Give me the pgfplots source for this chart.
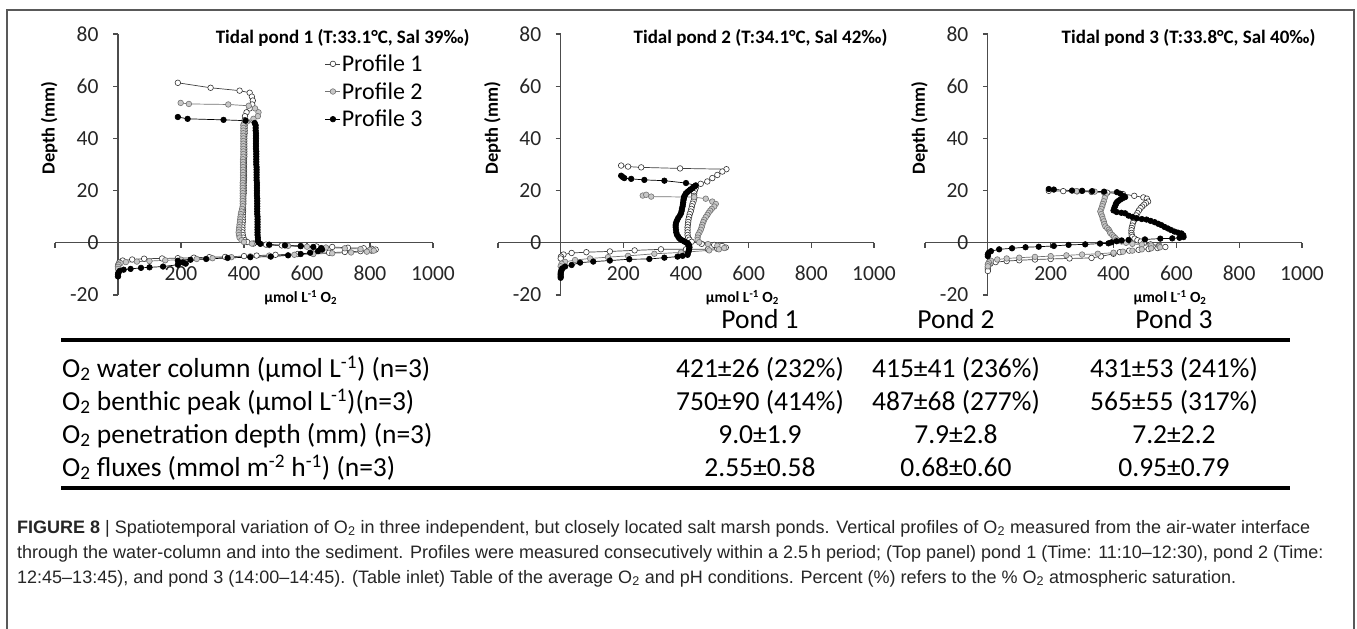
\documentclass[border=0pt]{standalone}
\usepackage{fontspec}
\setmainfont{Carlito}
\newfontfamily\capfont{Liberation Sans}
\usepackage{pgfplots}
\pgfplotsset{compat=1.18}
\pgfplotsset{
 pond/.style={
  scale only axis, width=378bp, height=261bp,
  xmin=-200,xmax=1000,ymin=-20,ymax=80,
  axis x line=middle, axis y line=middle,
  axis line style={-, draw=black!70, line width=1.1bp},
  every tick/.style={draw=black!70, line width=1.1bp},
  tick align=outside, major tick length=5bp,
  hide obscured x ticks=false, hide obscured y ticks=false,
  xtick={-200,200,400,600,800,1000}, xticklabels={,200,400,600,800,1000},
  ytick={-20,0,20,40,60,80}, yticklabels={-20,0,20,40,60,80},
  /pgf/number format/assume math mode=true,
  ticklabel style={font=\fontsize{21.5bp}{25bp}\selectfont, text=black!85},
  xticklabel style={anchor=north, yshift=-16bp, text height=13bp, text depth=0bp},
  yticklabel style={xshift=-11bp},
  xlabel={\textbf{µmol L\textsuperscript{-1} O\textsubscript{2}}},
  ylabel={\textbf{Depth (mm)}},
  xlabel style={at={(rel axis cs:0.65,-0.011)}, anchor=center, font=\fontsize{15.5bp}{18bp}\selectfont},
  ylabel style={at={(rel axis cs:-0.015,0.64)}, anchor=center, rotate=90, font=\fontsize{18.5bp}{22bp}\selectfont},
  clip=false,
 },
 p1/.style={black!75, line width=0.7bp, mark=*, mark size=2.8bp, mark options={fill=white, draw=black!80, line width=0.6bp, solid}},
 p2/.style={black!55, line width=0.7bp, mark=*, mark size=2.8bp, mark options={fill=black!22, draw=black!55, line width=0.6bp, solid}},
 p3/.style={black, line width=0.7bp, mark=*, mark size=2.8bp, mark options={fill=black, draw=black, line width=0.6bp, solid}},
}
\tikzset{ttl/.style={anchor=east, font=\bfseries\fontsize{19bp}{22bp}\selectfont}}
\newcommand\tabfont{\fontsize{27.5bp}{32bp}\selectfont}
\begin{document}
\begin{tikzpicture}
\useasboundingbox (0,0) rectangle (1357bp,-629bp);
\fill[white] (0,0) rectangle (1357bp,-629bp);
\draw[black!65, line width=1.5bp] (7bp,-650bp) -- (7bp,-10bp) -- (1354bp,-10bp) -- (1354bp,-650bp);

% ---------------- Pond 1
\begin{axis}[pond, at={(55bp,-295bp)}, anchor=south west,
  legend style={at={(rel axis cs:0.714,0.925)}, anchor=north west, draw=none, fill=none,
    font=\fontsize{24bp}{28bp}\selectfont,
    inner sep=0pt, row sep=7.5bp, nodes={font=\fontsize{24bp}{28bp}\selectfont, inner sep=1bp}},
  legend cell align=left,
  legend image code/.code={\draw[mark repeat=2,mark phase=2,#1] plot coordinates {(0bp,0bp) (7.5bp,0bp) (15bp,0bp)};}]
\addplot[p1] coordinates {
(190,61.3)(294,59.4)(386,58.3)(418,57.5)(425,56)(428,54.5)(426,53)(418,51.5)(408,50)(403,48.5)(402,47)(402,46)
(402,45)(402,44)(402,43)(402,42)(401,41)(401,40)(401,39)(401,38)(401,37)(401,36)(401,35)(401,34)(401,33)(400,32)(400,31)(400,30)(400,29)(400,28)(400,27)(400,26)(400,25)(400,24)(399,23)(399,22)(399,21)(399,20)(399,19)(398,18)(398,17)(398,16)(398,15)(397,14)(397,13)(397,12)(396,11)(396,10)(396,9)(396,8)(395,7)(395,6)(395,5)(395,4)(396,3)(398,2)(402,1)(410,0.3)(430,-0.3)(470,-0.7)(520,-1)(580,-1.2)(630,-1.4)(680,-1.6)(730,-1.9)(780,-2.1)(805,-2.3)(818,-2.6)(805,-3)(770,-3.2)(720,-3.5)(670,-3.8)(620,-4.1)(570,-4.3)(500,-4.6)(440,-4.9)(400,-5.1)(340,-5.4)(290,-5.5)(241,-5.7)(190,-5.9)(140,-6)(83,-6.1)(45,-6.4)(15,-6.8)(4,-7.5)(1,-8.3)(0,-9)
};
\addplot[p2] coordinates {
(199,53.6)(225,53.2)(350,53)(415,52.5)(435,51.5)(446,50)(444,48.5)(430,47.5)(410,46.5)(399,45.5)
(398,45)(398,44)(398,43)(398,42)(398,41)(398,40)(398,39)(398,38)(398,37)(398,36)(398,35)(398,34)(398,33)(397,32)(397,31)(397,30)(397,29)(397,28)(397,27)(397,26)(397,25)(397,24)(396,23)(396,22)(396,21)(396,20)(396,19)(396,18)(396,17)(396,16)(396,15)(396,14)(394,13)(392,12)(390,11)(389,10)(388,9)(387,8)(386,7)(385,6)(384,5)(383,4)(384,3)(386,2)(392,1)(400,0.3)(425,-0.3)(480,-0.9)(540,-1.2)(600,-1.5)(660,-1.8)(720,-2.1)(770,-2.4)(800,-2.7)(812,-3)(790,-3.4)(740,-3.7)(680,-4)(620,-4.3)(560,-4.6)(480,-4.9)(420,-5.2)(360,-5.5)(300,-5.9)(250,-6.2)(200,-6.5)(150,-6.7)(100,-7)(60,-7.2)(25,-7.4)(8,-7.8)(2,-8.4)(0,-9.2)(0,-10)
};
\addplot[p3] coordinates {
(190,48.2)(221,47.5)(335,47.1)(405,46.8)(434,45.9)
(437,45)(437,44)(437,43)(438,42)(438,41)(438,40)(438,39)(438,38)(438,37)(438,36)(439,35)(439,34)(439,33)(439,32)(439,31)(439,30)(440,29)(440,28)(440,27)(440,26)(440,25)(440,24)(441,23)(441,22)(441,21)(441,20)(441,19)(441,18)(442,17)(442,16)(442,15)(442,14)(442,13)(442,12)(442,11)(443,10)(443,9)(443,8)(443,7)(443,6)(443,5)(443,4)(443,3)(444,2)(444,1)
(446,0.2)(452,-0.4)(480,-0.7)(530,-1)(580,-1.3)(620,-1.6)(645,-2)(648,-2.6)(635,-3.2)(610,-3.8)(580,-4.3)(540,-4.8)(485,-5.3)(420,-5.5)(348,-5.8)(280,-6.2)(230,-6.5)(190,-6.9)(205,-7.5)(215,-8)(190,-8.4)(143,-9.1)(100,-9.4)(73,-9.6)(40,-10)(18,-10.3)(5,-10.8)(1,-11.5)(0,-12.2)(0,-12.9)
};
\legend{Profile 1,Profile 2,Profile 3}
\node[ttl] at (rel axis cs:1.106,0.985) {Tidal pond 1 (T:33.1°C, Sal 39‰)};
\end{axis}

% ---------------- Pond 2
\begin{axis}[pond, at={(498bp,-295bp)}, anchor=south west, width=376bp]
\addplot[p1] coordinates {
(193,29.6)(215,29.2)(257,28.9)(381,28.5)(529,28.2)(516,27.3)(500,26)(484,24.8)(468,23.5)(447,22.6)(431,21)(428,20)(426,19)(426,18)(426,17)(424,16)(421,15)(419,14)(417,13)(415,12)(412,11)(410,10)(408,9)(407,8)(406,7)(405,6)(405,5)(405,4)(405,3)(407,2)(411,1.2)(418,0.4)(450,-0.4)(490,-0.8)(515,-1.2)(527,-1.8)(500,-2.3)(470,-2.5)(400,-2.5)(320,-2.5)(236,-2.9)(157,-3.3)(82,-3.6)(35,-3.9)(9,-4.5)(1,-5.3)(0,-6)
};
\addplot[p2] coordinates {
(262,18.1)(273,18.4)(289,17.7)(426,17.5)(463,16.9)(484,15.8)(495,14.9)(490,13.9)(482,13)(477,12.3)(472,11.5)(468,10.7)(463,9.8)(458,8.8)(455,7.9)(452,6.9)(450,6)(447,5)(443,4)(439,3.1)(437,2)(437,1.1)(442,0.2)(470,-0.5)(500,-1.1)(522,-2)(505,-2.5)(474,-2.9)(384,-3.7)(299,-4.2)(215,-5)(151,-5.5)(94,-6)(46,-6.6)(14,-7.3)(3,-8)(0,-9)
};
\addplot[p3] coordinates {
(193,25.7)(198,25.2)(203,24.8)(225,24.5)(267,24.1)(331,23.8)(400,22.9)(431,22)(426,21.5)(421,21)(415,20.5)(410,20)(405,19.5)(400,19)(397,18.3)(394,17.7)(393,17)(392,16.4)(391,15.5)(390,14.7)(389,13.9)(387,13)(386,12.2)(384,11.3)(380,10.4)(375,9.5)(371,8.5)(368,7.6)(367,6.8)(367,6)(368,5)(369,4)(371,3.1)(375,2.4)(378,1.8)(383,1.3)(389,0.9)(396,0.4)(403,0)(408,-0.5)(410,-1.1)(411,-1.7)(410,-2.4)(409,-3)(407,-3.7)(405,-4.6)(389,-5)(373,-5.3)(331,-5.7)(283,-6.2)(219,-6.3)(157,-6.8)(104,-7.2)(62,-7.6)(35,-8.5)(14,-9.1)(5,-9.8)(3,-10.4)(1,-11)(0,-11.6)(0,-12.2)(0,-12.8)(0,-13.4)
};
\node[ttl] at (rel axis cs:1.045,0.985) {Tidal pond 2 (T:34.1°C, Sal 42‰)};
\end{axis}

% ---------------- Pond 3
\begin{axis}[pond, at={(925bp,-295bp)}, anchor=south west, width=377bp]
\addplot[p1] coordinates {
(194,19.9)(240,19.8)(284,19.7)(330,19.5)(380,19.2)(430,18.7)(466,18)(495,17.4)(506,16.9)(510,15.8)(503,15.2)(497,14.6)(491,13.9)(486,13.3)(481,12.4)(476,11.4)(472,10.5)(469,9.5)(465,8.5)(462,7.6)(460,6.6)(458,5.7)(457,4.8)(457,3.8)(458,3)(460,2.3)(467,1.6)(476,1)(487,0.5)(497,0)(518,-0.6)(545,-1)(565,-1.6)(540,-2)(512,-2.4)(480,-2.7)(450,-3)(420,-3.6)(400,-4.2)(360,-5.2)(330,-5.8)(260,-6)(200,-6.2)(150,-6.4)(100,-6.7)(60,-7)(25,-7.4)(8,-8)(2,-8.6)(0,-9.3)(0,-10)(0,-10.8)
};
\addplot[p2] coordinates {
(282,19.8)(300,19.9)(340,19.6)(370,19.2)(375,18.4)(372,17.2)(369,15.9)(366,14.9)(364,14)(361,13)(358,12)(361,11)(364,10.1)(366,9.1)(369,8.2)(371,7.2)(374,6.3)(380,5.6)(385,5)(388,4.3)(390,3.7)(396,3)(401,2.4)(406,1.8)(411,1.2)(426,0.5)(440,0)(460,-0.4)(490,-0.7)(520,-1)(545,-1.3)(548,-1.7)(520,-2.1)(490,-2.5)(460,-3)(430,-3.4)(400,-3.8)(350,-4.2)(300,-4.5)(250,-4.8)(200,-5.1)(150,-5.4)(100,-5.7)(60,-6)(30,-6.4)(10,-6.9)(3,-7.5)(0,-8.2)(0,-9)
};
\addplot[p3] coordinates {
(194,20.6)(210,20.4)(268,20)(300,19.9)(332,19.8)(370,19.6)(411,19.4)(422,18.8)(430,18)(437,17.5)(428,17)(421,16.5)(415,16)(411,15.6)(408,15)(406,14.3)(403,13.5)(400,12.4)(410,11.8)(425,11.5)(437,11.3)(448,10.4)(460,9.9)(474,9.4)(490,9.1)(505,8.9)(518,8.4)(531,7.9)(542,7.3)(552,6.8)(562,6.1)(573,5.5)(583,4.9)(594,4.3)(605,3.9)(616,3.6)(622,2.9)(623,2.2)(610,1.9)(587,1.7)(549,1.6)(500,1.3)(448,1.1)(426,0.9)(410,0.6)(394,0.2)(384,-0.2)(357,-0.3)(310,-0.6)(257,-0.8)(210,-1.2)(162,-1.5)(120,-1.7)(77,-2.1)(36,-2.5)(10,-3.2)(2,-3.9)(0,-4.5)(0,-5.1)
};
\node[ttl] at (rel axis cs:1.045,0.985) {Tidal pond 3 (T:33.8°C, Sal 40‰)};
\end{axis}

% ---------------- Table
\begin{scope}[every node/.style={font=\tabfont, inner sep=0pt}]
\node[anchor=base] at (760bp,-328bp) {Pond 1};
\node[anchor=base] at (956bp,-328bp) {Pond 2};
\node[anchor=base] at (1174bp,-328bp) {Pond 3};
\fill[black] (61bp,-338bp) rectangle (1290bp,-342bp);
\node[anchor=base west] at (62bp,-377bp) {O\textsubscript{2} water column (µmol L\textsuperscript{-1}) (n=3)};
\node[anchor=base] at (760bp,-377bp) {421±26 (232\%)};
\node[anchor=base] at (956bp,-377bp) {415±41 (236\%)};
\node[anchor=base] at (1174bp,-377bp) {431±53 (241\%)};
\node[anchor=base west] at (62bp,-410bp) {O\textsubscript{2} benthic peak (µmol L\textsuperscript{-1})(n=3)};
\node[anchor=base] at (760bp,-410bp) {750±90 (414\%)};
\node[anchor=base] at (956bp,-410bp) {487±68 (277\%)};
\node[anchor=base] at (1174bp,-410bp) {565±55 (317\%)};
\node[anchor=base west] at (62bp,-443bp) {O\textsubscript{2} penetration depth (mm) (n=3)};
\node[anchor=base] at (760bp,-443bp) {9.0±1.9};
\node[anchor=base] at (956bp,-443bp) {7.9±2.8};
\node[anchor=base] at (1174bp,-443bp) {7.2±2.2};
\node[anchor=base west] at (62bp,-476bp) {O\textsubscript{2} fluxes (mmol m\textsuperscript{-2} h\textsuperscript{-1}) (n=3)};
\node[anchor=base] at (760bp,-476bp) {2.55±0.58};
\node[anchor=base] at (956bp,-476bp) {0.68±0.60};
\node[anchor=base] at (1174bp,-476bp) {0.95±0.79};
\fill[black] (61bp,-486bp) rectangle (1290bp,-490bp);
\end{scope}

% ---------------- Caption
\begin{scope}[every node/.style={font=\capfont\fontsize{18bp}{21bp}\selectfont, inner sep=0pt, anchor=base west, text=black!85}]
\node at (17bp,-533bp) {\textbf{FIGURE 8} | Spatiotemporal variation of O\textsubscript{2} in three independent, but closely located salt marsh ponds. Vertical profiles of O\textsubscript{2} measured from the air-water interface};
\node at (17bp,-558bp) {through the water-column and into the sediment. Profiles were measured consecutively within a 2.5\,h period; (Top panel) pond 1 (Time: 11:10–12:30), pond 2 (Time:};
\node at (17bp,-583bp) {12:45–13:45), and pond 3 (14:00–14:45). (Table inlet) Table of the average O\textsubscript{2} and pH conditions. Percent (\%) refers to the \% O\textsubscript{2} atmospheric saturation.};
\end{scope}
\end{tikzpicture}
\end{document}
